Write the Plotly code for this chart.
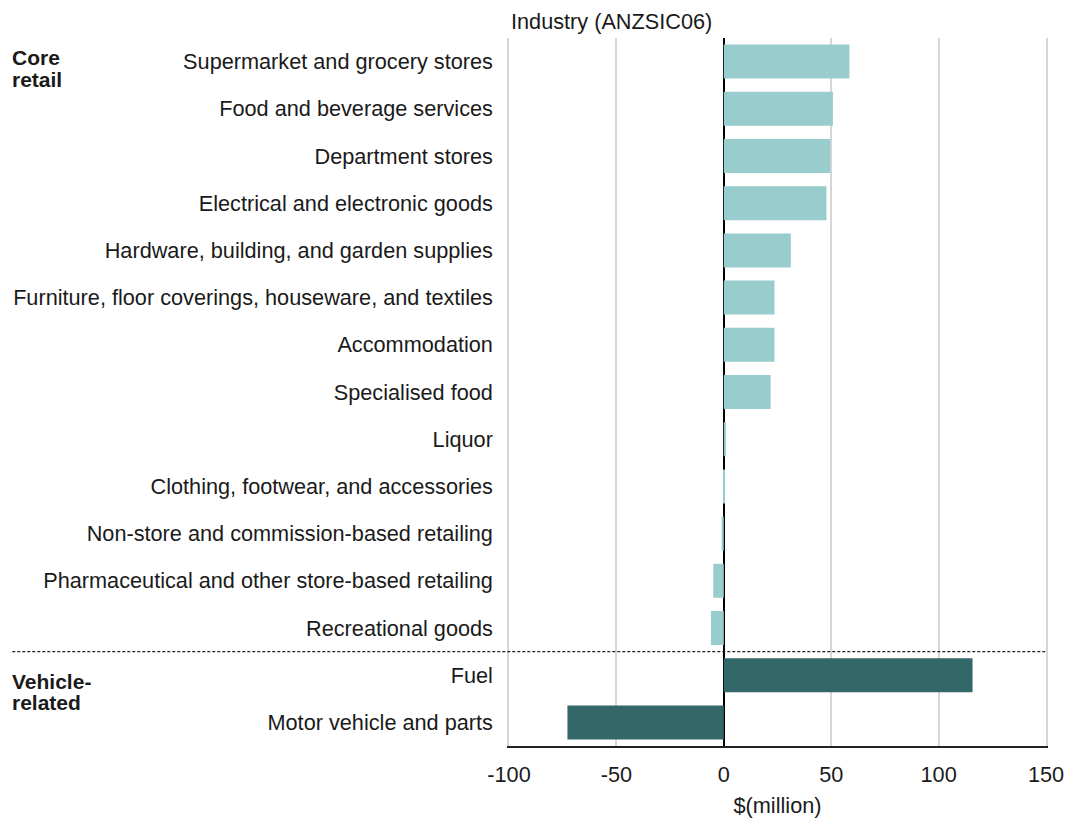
import plotly.graph_objects as go

categories = [
    "Supermarket and grocery stores",
    "Food and beverage services",
    "Department stores",
    "Electrical and electronic goods",
    "Hardware, building, and garden supplies",
    "Furniture, floor coverings, houseware, and textiles",
    "Accommodation",
    "Specialised food",
    "Liquor",
    "Clothing, footwear, and accessories",
    "Non-store and commission-based retailing",
    "Pharmaceutical and other store-based retailing",
    "Recreational goods",
    "Fuel",
    "Motor vehicle and parts",
]
values = [58.5, 50.8, 49.6, 47.8, 31.2, 23.6, 23.6, 21.8, 1.0, 0.2, -1.0, -4.9, -6.0, 115.8, -72.8]
groups = ["core"] * 13 + ["vehicle"] * 2
group_colors = {"core": "#99cccc", "vehicle": "#346767"}
xticks = [-100, -50, 0, 50, 100, 150]

FONT = "Liberation Sans, Arial, sans-serif"
TXT = "#1a1a1a"
FS = 21.7

fig = go.Figure()
fig.add_trace(go.Bar(
    x=values,
    y=categories,
    orientation="h",
    marker=dict(color=[group_colors[g] for g in groups], line=dict(width=0)),
    showlegend=False,
    hoverinfo="x+y",
))

fig.update_layout(
    width=1065,
    height=818,
    margin=dict(l=509, r=19, t=38, b=72),
    paper_bgcolor="white",
    plot_bgcolor="white",
    bargap=0.28,
    font=dict(family=FONT, size=FS, color=TXT),
    xaxis=dict(
        range=[-100, 150],
        tickvals=xticks,
        ticktext=[str(v) for v in xticks],
        showgrid=True,
        gridcolor="#d6d6d6",
        gridwidth=1.5,
        zeroline=True,
        zerolinecolor="black",
        zerolinewidth=2,
        showline=True,
        linecolor="#222222",
        linewidth=2,
        ticks="",
        ticklabelstandoff=8,
        automargin=False,
        tickfont=dict(family=FONT, size=FS, color=TXT),
        title=dict(text="$(million)", font=dict(family=FONT, size=FS, color=TXT), standoff=12),
        layer="above traces",
    ),
    yaxis=dict(
        autorange="reversed",
        showgrid=False,
        zeroline=False,
        showline=True,
        linecolor="#d6d6d6",
        linewidth=1.5,
        mirror=True,
        ticks="",
        ticklabelstandoff=10,
        automargin=False,
        tickfont=dict(family=FONT, size=FS, color=TXT),
    ),
)

fig.add_annotation(
    text="Industry (ANZSIC06)", xref="paper", yref="paper", x=0, y=1.0226,
    xanchor="left", yanchor="middle", showarrow=False,
    font=dict(family=FONT, size=FS, color=TXT),
)
group_labels = [("Core", 0.9718), ("retail", 0.9407), ("Vehicle-", 0.0918), ("related", 0.0621)]
for txt, yy in group_labels:
    fig.add_annotation(
        text="<b>" + txt + "</b>", xref="paper", yref="paper", x=-0.929, y=yy,
        xanchor="left", yanchor="middle", align="left", showarrow=False,
        font=dict(family=FONT, size=21, color=TXT),
    )
fig.add_shape(
    type="line", xref="paper", yref="paper", x0=-0.925, x1=1, y0=2 / 15, y1=2 / 15,
    line=dict(color="#222222", width=1.2, dash="3px,2px"),
)

fig.write_html(
    "out.html",
    config={"displayModeBar": False},
    post_script="document.body.style.margin='0';document.body.style.overflow='hidden';",
)
